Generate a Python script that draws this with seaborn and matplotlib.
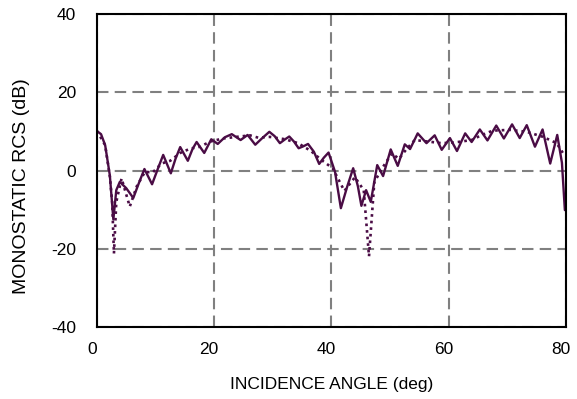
import pandas as pd
import matplotlib
matplotlib.use('Agg')
import matplotlib.pyplot as plt
import matplotlib.transforms as mtransforms
import seaborn as sns

# values
solid_angle = [0, 0.7, 1.4, 2.2, 2.8, 3.3, 3.9, 5.0, 6.2, 7.2, 8.1, 9.4, 10.4, 11.3,
               12.6, 13.4, 14.2, 15.5, 16.3, 17.0, 18.3, 19.5, 20.6, 21.8, 23.0,
               24.5, 25.7, 27.0, 28.2, 29.4, 30.3, 31.2, 32.0, 32.8, 33.6, 34.4,
               35.2, 36.0, 37.0, 37.9, 38.7, 39.5, 40.6, 41.6, 42.7, 43.7, 44.5,
               45.1, 45.9, 46.7, 47.8, 48.8, 50.1, 51.3, 52.5, 53.4, 54.7, 56.2,
               57.6, 58.8, 60.2, 61.4, 62.8, 63.9, 65.3, 66.6, 68.1, 69.4, 70.8,
               72.1, 73.3, 74.7, 76.0, 77.3, 78.5, 79.3, 79.8]
solid_rcs = [10.1, 9.3, 6.5, -1.2, -12.5, -5.0, -2.9, -4.5, -7.0, -3.0, 0.4, -3.5,
             0.5, 4.0, -0.7, 3.0, 6.0, 2.5, 5.5, 7.3, 4.5, 8.0, 6.8, 8.5, 9.3,
             7.8, 9.1, 6.6, 8.3, 9.9, 8.8, 7.0, 7.9, 8.7, 7.4, 5.7, 6.2, 6.8,
             4.8, 1.7, 3.3, 4.6, -0.3, -9.6, -4.0, 0.6, -4.0, -9.0, -5.0, -8.0,
             1.4, -1.4, 5.4, 1.2, 6.7, 5.5, 9.5, 7.0, 9.0, 5.3, 8.3, 5.0, 9.5,
             7.3, 10.5, 7.7, 11.5, 8.2, 11.8, 8.3, 11.6, 6.1, 10.5, 1.8, 9.1,
             2.0, -10.1]

dotted_angle = [0, 1.4, 2.2, 2.6, 2.9, 3.3, 4.2, 5.6, 6.8, 8.2, 9.5, 11.0, 12.5,
                14.2, 15.9, 17.6, 19.3, 21.5, 23.8, 26.1, 27.5, 29.5, 32.1, 34.3,
                36.5, 38.2, 40.2, 42.2, 44.0, 45.5, 46.4, 47.3, 48.6, 50.3, 51.5,
                52.8, 54.2, 56.5, 58.8, 61.1, 63.9, 65.5, 67.5, 70.4, 73.3, 76.1,
                78.4, 79.5]
dotted_rcs = [10.1, 6.5, -1.5, -8.0, -21.2, -8.0, -2.0, -9.2, -4.0, -0.3, -0.5,
              1.8, 2.5, 4.5, 5.6, 6.1, 7.4, 8.2, 8.6, 9.0, 8.4, 8.6, 8.0, 7.0,
              5.0, 2.8, 0.6, -5.2, -1.7, -5.0, -21.9, -3.0, 0.5, 4.4, 3.0, 5.5,
              7.8, 7.4, 7.0, 7.2, 7.8, 9.0, 10.2, 10.4, 9.9, 8.6, 7.0, 4.4]

x_ticks = [0, 20, 40, 60, 80]
y_ticks = [-40, -20, 0, 20, 40]

solid = pd.DataFrame({'angle': solid_angle, 'rcs': solid_rcs})
dotted = pd.DataFrame({'angle': dotted_angle, 'rcs': dotted_rcs})

sns.set_style('white')
plt.rcParams['font.family'] = ['Liberation Sans', 'DejaVu Sans']
plt.rcParams['axes.unicode_minus'] = False
plt.rcParams['text.color'] = 'black'
plt.rcParams['axes.labelcolor'] = 'black'

line_color = '#4a0c45'

fig = plt.figure(figsize=(5.77, 3.99), dpi=100)
ax = fig.add_axes([0.168, 0.180, 0.813, 0.785])

sns.lineplot(data=solid, x='angle', y='rcs', ax=ax, color=line_color,
             linewidth=1.7, sort=False, solid_joinstyle='round')
sns.lineplot(data=dotted, x='angle', y='rcs', ax=ax, color=line_color,
             linewidth=1.9, linestyle=(0, (1, 1.5)), sort=False)

ax.set_xlim(0, 80)
ax.set_ylim(-40, 40)
ax.set_xticks(x_ticks)
ax.set_yticks(y_ticks)
ax.grid(True, linestyle=(0, (5.5, 3)), color='#808080', linewidth=1.5)
ax.set_axisbelow(True)

for side in ['left', 'right', 'top', 'bottom']:
    ax.spines[side].set_visible(True)
    ax.spines[side].set_color('black')
    ax.spines[side].set_linewidth(1.5)

ax.tick_params(direction='in', length=4, width=1.2, color='black',
               labelsize=12.5, labelcolor='black')
ax.tick_params(axis='x', pad=11)
ax.tick_params(axis='y', pad=15)

shift = mtransforms.ScaledTranslation(-0.05, 0, fig.dpi_scale_trans)
for lbl in ax.get_xticklabels():
    lbl.set_transform(lbl.get_transform() + shift)

ax.set_xlabel('INCIDENCE ANGLE (deg)', fontsize=12.5, labelpad=14)
ax.set_ylabel('MONOSTATIC RCS (dB)', fontsize=14)
ax.yaxis.set_label_coords(-0.142, 0.45)

fig.savefig('out.png', dpi=100)
